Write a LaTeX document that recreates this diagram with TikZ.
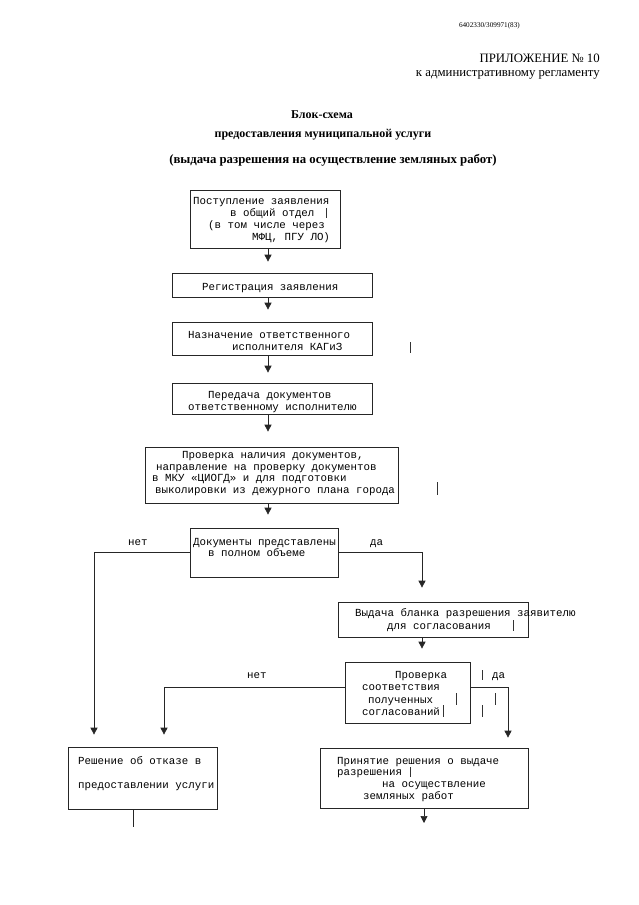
\documentclass[tikz,border=0pt]{standalone}
\usepackage{fontspec}
\setmainfont{Liberation Serif}
\newfontfamily\monof{Liberation Mono}
\usetikzlibrary{arrows.meta}
\newcommand\tline[4]{\node[txt] (#1) at (#2,#3) {#4};}
\newcommand\sbar[3]{\draw[strk] (#1,#2) -- (#1,#3);}
\begin{document}
\begin{tikzpicture}[x=1pt,y=-1pt,
  box/.style={draw=black!85,line width=0.7pt,inner sep=0pt,rectangle},
  txt/.style={font=\monof\fontsize{10.8}{12}\selectfont,inner sep=0pt,anchor=base west,text=black},
  hdr/.style={font=\fontsize{12.8}{14}\selectfont,inner sep=0pt,text=black},
  ttl/.style={font=\bfseries\fontsize{12}{14}\selectfont,inner sep=0pt,anchor=base,text=black},
  arr/.style={draw=black!85,line width=0.7pt,-{Triangle[width=7pt,length=7pt]}},
  lin/.style={draw=black!85,line width=0.7pt},
  strk/.style={draw=black!80,line width=0.7pt}]
\fill[white] (0,0) rectangle (639,905);
\useasboundingbox (0,0) rectangle (639,905);

% header
\node[hdr,font=\fontsize{7.2}{9}\selectfont,anchor=base east] (num) at (520,27) {6402330/309971(83)};
\node[hdr,anchor=base east] (pril) at (600,62) {ПРИЛОЖЕНИЕ № 10};
\node[hdr,anchor=base east] (reg) at (600,76) {к административному регламенту};
\node[ttl] (t1) at (322,118) {Блок-схема};
\node[ttl] (t2) at (323,137) {предоставления муниципальной услуги};
\node[ttl,font=\bfseries\fontsize{12.8}{14}\selectfont] (t3) at (333,163) {(выдача разрешения на осуществление земляных работ)};

% boxes
\node[box,minimum width=150pt,minimum height=58pt] (b1) at (265,219) {};
\node[box,minimum width=200pt,minimum height=24pt] (b2) at (272,285) {};
\node[box,minimum width=200pt,minimum height=33pt] (b3) at (272,338.5) {};
\node[box,minimum width=200pt,minimum height=31pt] (b4) at (272,398.5) {};
\node[box,minimum width=253pt,minimum height=56pt] (b5) at (271.5,475) {};
\node[box,minimum width=148pt,minimum height=49pt] (b6) at (264,552.5) {};
\node[box,minimum width=190pt,minimum height=35pt] (b7) at (433,619.5) {};
\node[box,minimum width=125pt,minimum height=61pt] (b8) at (407.5,692.5) {};
\node[box,minimum width=149pt,minimum height=62pt] (b9) at (142.5,778) {};
\node[box,minimum width=208pt,minimum height=60pt] (b10) at (424,778) {};

% texts
\tline{a1}{193}{204}{Поступление заявления}
\tline{a2}{230}{216}{в общий отдел}
\tline{a3}{208}{228}{(в том числе через}
\tline{a4}{252}{240}{МФЦ, ПГУ ЛО)}
\tline{c1}{202}{290}{Регистрация заявления}
\tline{d1}{188}{338}{Назначение ответственного}
\tline{d2}{232}{350}{исполнителя КАГиЗ}
\tline{e1}{208}{398}{Передача документов}
\tline{e2}{188}{410}{ответственному исполнителю}
\tline{f1}{182}{458}{Проверка наличия документов,}
\tline{f2}{156}{470}{направление на проверку документов}
\tline{f3}{152}{481}{в МКУ «ЦИОГД» и для подготовки}
\tline{f4}{155}{493}{выколировки из дежурного плана города}
\tline{g1}{193}{545}{Документы представлены}
\tline{g2}{208}{556}{в полном объеме}
\tline{h1}{355}{616}{Выдача бланка разрешения заявителю}
\tline{h2}{387}{629}{для согласования}
\tline{k1}{395}{678}{Проверка}
\tline{k2}{362}{690}{соответствия}
\tline{k3}{368}{703}{полученных}
\tline{k4}{362}{715}{согласований}
\tline{m1}{78}{764}{Решение об отказе в}
\tline{m2}{78}{788}{предоставлении услуги}
\tline{n1}{337}{764}{Принятие решения о выдаче}
\tline{n2}{337}{775}{разрешения}
\tline{n3}{382}{787}{на осуществление}
\tline{n4}{363}{799}{земляных работ}
\tline{l1}{128}{545}{нет}
\tline{l2}{370}{545}{да}
\tline{l3}{247}{678}{нет}
\tline{l4}{492}{678}{да}

% columns
\coordinate (colA) at (268,0);
\coordinate (colB) at (422,0);
\coordinate (colL) at (94,0);
\coordinate (colM) at (164,0);
\coordinate (colR) at (508,0);
\coordinate (colD) at (424,0);
\coordinate (colE) at (133,0);
\coordinate (outA) at (424,823);
\coordinate (outB) at (133,827);

% connectors
\draw[arr,shorten >=11pt] (b1.south -| colA) -- (b2.north -| colA);
\draw[arr,shorten >=12pt] (b2.south -| colA) -- (b3.north -| colA);
\draw[arr,shorten >=10pt] (b3.south -| colA) -- (b4.north -| colA);
\draw[arr,shorten >=15pt] (b4.south -| colA) -- (b5.north -| colA);
\draw[arr,shorten >=13pt] (b5.south -| colA) -- (b6.north -| colA);
\draw[arr,shorten >=12pt] (b6.west) -| (b9.north -| colL);
\draw[arr,shorten >=14pt] (b6.east) -| (b7.north -| colB);
\draw[arr,shorten >=13pt] (b7.south -| colB) -- (b8.north -| colB);
\draw[arr,shorten >=12pt] ([yshift=5.5pt]b8.west) -| (b9.north -| colM);
\draw[arr,shorten >=10pt] ([yshift=5.5pt]b8.east) -| (b10.north -| colR);
\draw[arr] (b10.south -| colD) -- (outA);
\draw[lin] (b9.south -| colE) -- (outB);

% stray strokes from the scan
\sbar{326}{208}{218}
\sbar{410}{342}{353}
\sbar{437}{482}{495}
\sbar{513}{620}{631}
\sbar{482}{670}{680}
\sbar{456}{693}{705}
\sbar{495}{693}{705}
\sbar{443}{705}{717}
\sbar{482}{705}{717}
\sbar{410}{767}{777}
\end{tikzpicture}
\end{document}
